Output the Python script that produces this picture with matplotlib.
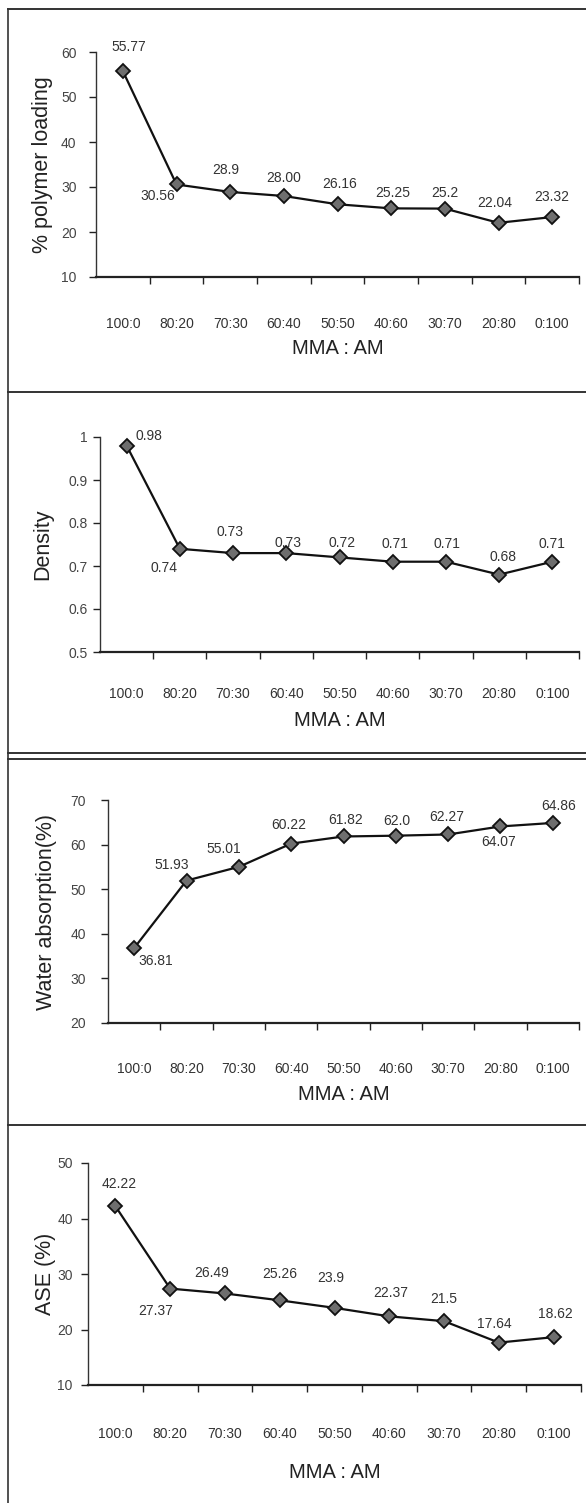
import numpy as np
import matplotlib
matplotlib.use("Agg")
import matplotlib.pyplot as plt
from matplotlib.lines import Line2D

plt.rcParams['font.family'] = ['Liberation Sans', 'DejaVu Sans']

# data
ratios = ["100:0", "80:20", "70:30", "60:40", "50:50", "40:60", "30:70", "20:80", "0:100"]

loading = [55.77, 30.56, 28.9, 28.00, 26.16, 25.25, 25.2, 22.04, 23.32]
loading_txt = ["55.77", "30.56", "28.9", "28.00", "26.16", "25.25", "25.2", "22.04", "23.32"]

density = [0.98, 0.74, 0.73, 0.73, 0.72, 0.71, 0.71, 0.68, 0.71]
density_txt = ["0.98", "0.74", "0.73", "0.73", "0.72", "0.71", "0.71", "0.68", "0.71"]

water = [36.81, 51.93, 55.01, 60.22, 61.82, 62.0, 62.27, 64.07, 64.86]
water_txt = ["36.81", "51.93", "55.01", "60.22", "61.82", "62.0", "62.27", "64.07", "64.86"]

ase = [42.22, 27.37, 26.49, 25.26, 23.9, 22.37, 21.5, 17.64, 18.62]
ase_txt = ["42.22", "27.37", "26.49", "25.26", "23.9", "22.37", "21.5", "17.64", "18.62"]

W, H = 586, 1503
fig = plt.figure(figsize=(W / 100, H / 100), dpi=100)
fig.patch.set_facecolor('white')

ink = '#222222'


def px(x, y):
    return x / W, 1 - y / H


# panel layout in pixels: axes box, ylabel x, pads, xlabel y, label offsets
panels = [
    dict(vals=loading, txt=loading_txt, ylab="% polymer loading",
         ylim=(10, 60), yticks=[10, 20, 30, 40, 50, 60],
         yticklabels=["10", "20", "30", "40", "50", "60"],
         box=(96, 579, 52, 277), ylx=43, ypad=9, xpad=29, xly=349,
         offs=[(6, 24), (-19, -12), (-4, 22), (0, 18), (2, 20), (2, 15), (0, 16), (-4, 20), (0, 20)]),
    dict(vals=density, txt=density_txt, ylab="Density",
         ylim=(0.5, 1.0), yticks=[0.5, 0.6, 0.7, 0.8, 0.9, 1.0],
         yticklabels=["0.5", "0.6", "0.7", "0.8", "0.9", "1"],
         box=(100, 579, 437, 652), ylx=43, ypad=4, xpad=25, xly=720,
         offs=[(22, 10), (-16, -19), (-3, 21), (2, 10), (3, 14), (2, 18), (1, 18), (4, 18), (0, 18)]),
    dict(vals=water, txt=water_txt, ylab="Water absorption(%)",
         ylim=(20, 70), yticks=[20, 30, 40, 50, 60, 70],
         yticklabels=["20", "30", "40", "50", "60", "70"],
         box=(108, 579, 800, 1023), ylx=47, ypad=11, xpad=28, xly=1094,
         offs=[(22, -13), (-15, 16), (-15, 18), (-2, 19), (2, 16), (1, 15), (-1, 17), (-2, -16), (6, 17)]),
    dict(vals=ase, txt=ase_txt, ylab="ASE (%)",
         ylim=(10, 50), yticks=[10, 20, 30, 40, 50],
         yticklabels=["10", "20", "30", "40", "50"],
         box=(88, 581, 1163, 1385), ylx=45, ypad=6, xpad=30, xly=1472,
         offs=[(4, 22), (-14, -22), (-13, 20), (0, 26), (-4, 30), (1, 23), (0, 22), (-5, 19), (2, 23)]),
]

xs = np.arange(len(ratios)) + 0.5

for p in panels:
    x0, x1, yt, yb = p['box']
    l, b = px(x0, yb)
    ax = fig.add_axes([l, b, (x1 - x0) / W, (yb - yt) / H])
    ax.set_facecolor('none')
    ax.plot(xs, p['vals'], color='#111111', lw=1.6, marker='D', ms=7,
            mfc='#6e6e6e', mec='#111111', mew=1.3, zorder=3)
    for x, v, t, (dx, dy) in zip(xs, p['vals'], p['txt'], p['offs']):
        ax.annotate(t, (x, v), xytext=(dx, dy), textcoords='offset pixels',
                    ha='center', va='center', fontsize=10, color='#333333')
    ax.set_xlim(0, 9)
    ax.set_ylim(*p['ylim'])
    ax.set_yticks(p['yticks'])
    ax.set_yticklabels(p['yticklabels'])
    ax.set_xticks(xs)
    ax.set_xticklabels(ratios)
    ax.set_xticks(np.arange(1, 10), minor=True)
    ax.tick_params(axis='x', which='major', length=0, pad=p['xpad'],
                   labelsize=10, labelcolor='#333333')
    ax.tick_params(axis='x', which='minor', length=5, width=1, color=ink, direction='out')
    ax.tick_params(axis='y', length=5, width=1, color=ink, direction='out',
                   pad=p['ypad'], labelsize=10, labelcolor='#444444')
    for s in ['top', 'right']:
        ax.spines[s].set_visible(False)
    ax.spines['left'].set_color('#333333')
    ax.spines['left'].set_linewidth(1.0)
    ax.spines['bottom'].set_color(ink)
    ax.spines['bottom'].set_linewidth(1.6)

    fig.text(*px(p['ylx'], (yt + yb) / 2), p['ylab'], rotation=90,
             ha='center', va='center', fontsize=15.5, color=ink)
    fig.text(*px((x0 + x1) / 2, p['xly']), "MMA : AM",
             ha='center', va='center', fontsize=14.5, color=ink)

# frames around the panels
for y in [9, 392, 753, 759, 1125]:
    fig.add_artist(Line2D([8 / W, 1], [1 - y / H, 1 - y / H], color='#333333', lw=1.4))
fig.add_artist(Line2D([8 / W, 8 / W], [1 - 9 / H, 0], color='#333333', lw=1.2))

fig.savefig("out.png", dpi=100)
